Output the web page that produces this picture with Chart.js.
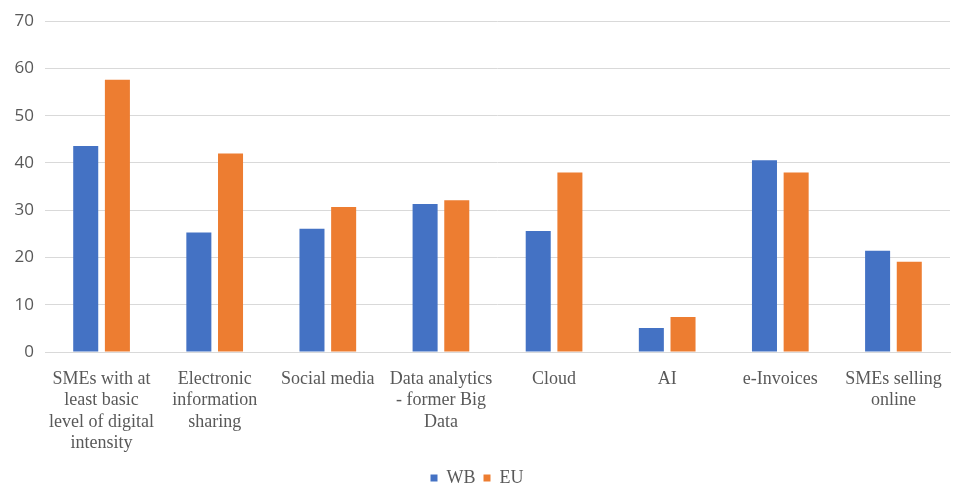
<!DOCTYPE html>
<html>
<head>
<meta charset="utf-8">
<script src="https://cdn.jsdelivr.net/npm/chart.js@4"></script>
<style>
  html, body { margin: 0; padding: 0; background: #fff; }
  #wrap { width: 953px; height: 491px; }
</style>
</head>
<body>
<div id="wrap"><canvas id="smeChart"></canvas></div>
<script>
// digital adoption indicators, WB vs EU (%)
const categories = [
    ['SMEs with at', 'least basic', 'level of digital', 'intensity'],
    ['Electronic', 'information', 'sharing'],
    'Social media',
    ['Data analytics', '- former Big', 'Data'],
    'Cloud',
    'AI',
    'e-Invoices',
    ['SMEs selling', 'online']
];
const wbValues = [43.6, 25.3, 26.1, 31.3, 25.6, 5.1, 40.6, 21.4];
const euValues = [57.6, 42.0, 30.7, 32.1, 38.0, 7.4, 38.0, 19.1];
const yTicks = [0, 10, 20, 30, 40, 50, 60, 70];

const gridColor = '#d9d9d9';
const textColor = '#595959';

const ctx = document.getElementById('smeChart').getContext('2d');
new Chart(ctx, {
    type: 'bar',
    data: {
        labels: categories,
        datasets: [{
                label: 'WB',
                data: wbValues,
                backgroundColor: '#4472c4',
                categoryPercentage: 0.56,
                barPercentage: 0.79
            },
            {
                label: 'EU',
                data: euValues,
                backgroundColor: '#ed7d31',
                categoryPercentage: 0.56,
                barPercentage: 0.79
            }
        ]
    },
    options: {
        responsive: true,
        maintainAspectRatio: false,
        animation: false,
        layout: {
            padding: { top: 21, right: 3, left: 4, bottom: -6 }
        },
        scales: {
            x: {
                grid: { display: false },
                border: { color: gridColor },
                afterFit: (axis) => { axis.height = 109; },
                ticks: {
                    maxRotation: 0,
                    autoSkip: false,
                    color: textColor,
                    padding: 8,
                    font: { family: 'Liberation Serif', size: 18, lineHeight: 1.2 }
                }
            },
            y: {
                min: 0,
                max: 70,
                afterBuildTicks: (axis) => {
                    axis.ticks = yTicks.map(v => ({ value: v }));
                },
                afterFit: (axis) => { axis.width = 41; },
                grid: { color: gridColor, drawTicks: false },
                border: { display: false },
                ticks: {
                    color: textColor,
                    padding: 11,
                    font: { family: 'Open Sans', size: 17 }
                }
            }
        },
        plugins: {
            legend: {
                position: 'bottom',
                labels: {
                    boxWidth: 7,
                    boxHeight: 7,
                    padding: 8,
                    color: textColor,
                    font: { family: 'Liberation Serif', size: 18 }
                }
            },
            tooltip: { enabled: false }
        }
    }
});
</script>
</body>
</html>
